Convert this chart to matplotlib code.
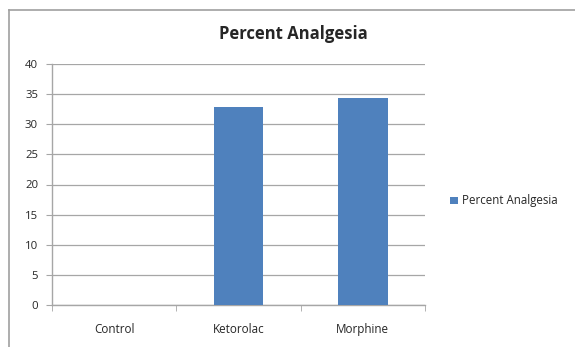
import matplotlib
matplotlib.use("Agg")
import matplotlib.pyplot as plt
from matplotlib.lines import Line2D

categories = ["Control", "Ketorolac", "Morphine"]
values = [0.0, 32.9, 34.3]
series_name = "Percent Analgesia"
y_ticks = [0, 5, 10, 15, 20, 25, 30, 35, 40]

bar_color = "#4F81BD"
grid_color = "#a6a6a6"
text_color = "#262626"

plt.rcParams["font.family"] = ["Open Sans", "DejaVu Sans"]

fig = plt.figure(figsize=(5.75, 3.47), dpi=100)
fig.patch.set_facecolor("white")
ax = fig.add_axes([52 / 575, 1 - 305 / 347, (425 - 52) / 575, (305 - 64) / 347])

x = list(range(len(categories)))
ax.bar(x, values, width=0.4, color=bar_color, label=series_name, zorder=3)

ax.set_xlim(-0.5, len(categories) - 0.5)
ax.set_ylim(0, 40)
ax.set_yticks(y_ticks)
ax.set_yticklabels([str(t) for t in y_ticks], fontsize=8.2, color=text_color)
ax.yaxis.grid(True, color=grid_color, linewidth=0.9, zorder=0)
ax.tick_params(axis="y", length=4, color=grid_color, pad=6)

ax.set_xticks(x)
ax.set_xticklabels(categories, fontsize=8.4, color=text_color)
ax.set_xticks([i - 0.5 for i in range(len(categories) + 1)], minor=True)
ax.tick_params(axis="x", which="major", length=0, pad=13)
ax.tick_params(axis="x", which="minor", length=4, color=grid_color)

for side in ("top", "right"):
    ax.spines[side].set_visible(False)
for side in ("left", "bottom"):
    ax.spines[side].set_color(grid_color)
    ax.spines[side].set_linewidth(1.0)

fig.text(293 / 575, 1 - 34 / 347, "Percent Analgesia", ha="center", va="center",
         fontsize=12, fontweight="bold", color=text_color)

ax.legend(loc="center left", bbox_to_anchor=(440 / 575, 1 - 201 / 347),
          bbox_transform=fig.transFigure, frameon=False, fontsize=8.3,
          handlelength=0.65, handleheight=0.65, handletextpad=0.4,
          labelcolor=text_color)

# chart area frame
frame_color = "#a0a0a0"
fig.add_artist(Line2D([9 / 575, 1.0], [1 - 10 / 347, 1 - 10 / 347],
                      transform=fig.transFigure, color=frame_color, linewidth=1.2))
fig.add_artist(Line2D([9 / 575, 9 / 575], [0.0, 1 - 10 / 347],
                      transform=fig.transFigure, color=frame_color, linewidth=1.2))

fig.savefig("out.png", dpi=100)
